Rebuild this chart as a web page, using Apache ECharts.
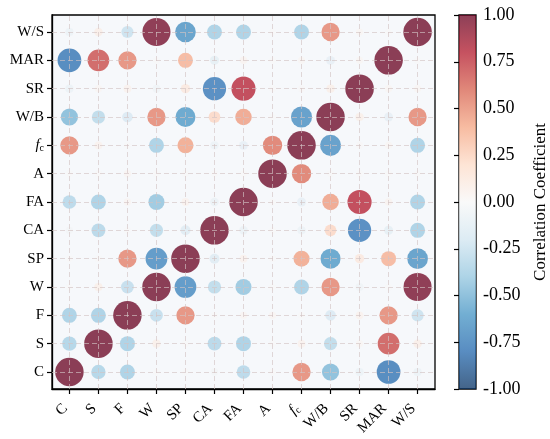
<!DOCTYPE html>
<html>
<head>
<meta charset="utf-8">
<script src="https://cdn.jsdelivr.net/npm/echarts@6/dist/echarts.min.js"></script>
<style>
  html, body { margin: 0; padding: 0; background: #fff; }
  #main { width: 550px; height: 439px; }
</style>
</head>
<body>
<div id="main"></div>
<script>
// variables, bottom to top on y, left to right on x
var labels = ['C', 'S', 'F', 'W', 'SP', 'CA', 'FA', 'A', 'fc', 'W/B', 'SR', 'MAR', 'W/S']

// correlation rows (same order as labels)
var rowC   = [1.00, -0.35, -0.38, 0.00, 0.00, -0.03, -0.32, 0.00, 0.53, -0.48, -0.07, -0.78, -0.07]
var rowS   = [-0.35, 1.00, -0.38, 0.07, 0.00, -0.33, -0.38, 0.00, 0.05, -0.30, 0.02, 0.69, 0.08]
var rowF   = [-0.38, -0.38, 1.00, -0.28, 0.53, 0.00, 0.03, 0.03, 0.00, -0.18, 0.05, 0.53, -0.25]
var rowW   = [0.00, 0.07, -0.28, 1.00, -0.69, -0.30, -0.43, 0.00, -0.38, 0.53, -0.05, 0.00, 0.98]
var rowSP  = [0.00, 0.00, 0.53, -0.69, 1.00, -0.15, 0.05, 0.00, 0.43, -0.61, 0.12, 0.38, -0.64]
var rowCA  = [-0.03, -0.33, 0.00, -0.30, -0.15, 1.00, -0.08, 0.00, -0.07, 0.23, -0.76, -0.11, -0.38]
var rowFA  = [-0.32, -0.38, 0.03, -0.43, 0.05, -0.08, 1.00, 0.00, -0.10, 0.45, 0.80, 0.04, -0.38]
var rowA   = [0.00, 0.00, 0.03, 0.00, 0.00, 0.00, 0.00, 1.00, 0.58, 0.00, 0.00, 0.00, 0.00]
var rowFc  = [0.53, 0.05, 0.00, -0.38, 0.43, -0.07, -0.10, 0.58, 1.00, -0.66, 0.01, 0.02, -0.38]
var rowWB  = [-0.48, -0.30, -0.18, 0.53, -0.61, 0.23, 0.45, 0.00, -0.66, 1.00, 0.07, -0.10, 0.53]
var rowSR  = [-0.07, 0.02, 0.05, -0.05, 0.12, -0.76, 0.80, 0.00, 0.01, 0.07, 1.00, 0.02, 0.02]
var rowMAR = [-0.78, 0.69, 0.53, 0.00, 0.38, -0.11, 0.04, 0.00, 0.02, -0.10, 0.02, 1.00, 0.00]
var rowWS  = [-0.07, 0.08, -0.25, 0.98, -0.64, -0.38, -0.38, 0.00, -0.38, 0.53, 0.02, 0.00, 1.00]

var colorTicks = [-1, -0.75, -0.5, -0.25, 0, 0.25, 0.5, 0.75, 1]

// RdBu_r
var cmap = ['#053061', '#2166ac', '#4393c3', '#92c5de', '#d1e5f0', '#f7f7f7',
            '#fddbc7', '#f4a582', '#d6604d', '#b2182b', '#67001f']

var rows = [rowC, rowS, rowF, rowW, rowSP, rowCA, rowFA, rowA, rowFc, rowWB, rowSR, rowMAR, rowWS]
var points = []
rows.forEach(function (row, y) {
  row.forEach(function (v, x) {
    points.push([x, y, v])
  })
})

var idx = labels.map(function (l, i) { return i })
var serif = '"Liberation Serif", "Times New Roman", serif'

function fmtLabel (v) {
  var l = labels[Math.round(v)]
  if (l === 'fc') return '{i|f}{s|c}'
  return l
}
var rich = {
  i: { fontStyle: 'italic', fontSize: 15, fontFamily: serif, color: '#000' },
  s: { fontSize: 10, fontFamily: serif, color: '#000', padding: [7, 0, 0, 0] }
}

var gridLines = []
idx.forEach(function (i) {
  gridLines.push({ xAxis: i })
  gridLines.push({ yAxis: i })
})

var myChart = echarts.init(document.getElementById('main'), null, { renderer: 'canvas' })
myChart.setOption({
  animation: false,
  grid: [
    { left: 52, top: 15, width: 383, height: 374, show: true, backgroundColor: '#f6f8fb',
      borderColor: '#000', borderWidth: 1.3 },
    { left: 459, top: 15, width: 19, height: 374, show: true, backgroundColor: 'transparent',
      borderColor: '#000', borderWidth: 1.3 }
  ],
  visualMap: {
    show: false,
    seriesIndex: 0,
    dimension: 2,
    min: -1,
    max: 1,
    inRange: { color: cmap }
  },
  xAxis: [
    {
      type: 'value', gridIndex: 0, min: -0.6, max: 12.6,
      axisLine: { show: true, onZero: false, lineStyle: { color: '#000', width: 1.3 } },
      axisTick: { show: true, customValues: idx, length: 5, lineStyle: { color: '#000', width: 1.2 } },
      axisLabel: { customValues: idx, rotate: 45, formatter: fmtLabel, rich: rich,
        fontFamily: serif, fontSize: 15, color: '#000', margin: 13, padding: [0, 6, 0, 0] },
      splitLine: { show: false }
    },
    { type: 'value', gridIndex: 1, min: 0, max: 1, show: false }
  ],
  yAxis: [
    {
      type: 'value', gridIndex: 0, min: -0.6, max: 12.6,
      axisLine: { show: true, onZero: false, lineStyle: { color: '#000', width: 1.3 } },
      axisTick: { show: true, customValues: idx, length: 5, lineStyle: { color: '#000', width: 1.2 } },
      axisLabel: { customValues: idx, formatter: fmtLabel, rich: rich,
        fontFamily: serif, fontSize: 15, color: '#000', margin: 8 },
      splitLine: { show: false }
    },
    {
      type: 'value', gridIndex: 1, min: -1, max: 1, interval: 0.25, position: 'right',
      axisLine: { show: false },
      axisTick: { show: true, inside: true, length: 5, lineStyle: { color: '#000', width: 1.2 } },
      axisLabel: { formatter: function (v) { return v.toFixed(2) },
        fontFamily: serif, fontSize: 18, color: '#000', margin: 7 },
      splitLine: { show: false },
      name: 'Correlation Coefficient',
      nameLocation: 'middle',
      nameRotate: 90,
      nameGap: 56,
      nameTextStyle: { fontFamily: serif, fontSize: 17, color: '#000' }
    }
  ],
  series: [
    {
      type: 'scatter',
      xAxisIndex: 0,
      yAxisIndex: 0,
      data: points,
      symbolSize: function (d) { return 6.7 + 21.8 * Math.abs(d[2]) },
      itemStyle: { opacity: 0.75 },
      markLine: {
        silent: true,
        symbol: 'none',
        label: { show: false },
        lineStyle: { color: 'rgba(210,195,195,0.65)', type: [5, 3], width: 1 },
        data: gridLines
      }
    },
    {
      type: 'custom',
      xAxisIndex: 1,
      yAxisIndex: 1,
      data: [[0, colorTicks[0], colorTicks[colorTicks.length - 1]]],
      renderItem: function (params, api) {
        var p0 = api.coord([0, api.value(2)])
        var p1 = api.coord([1, api.value(1)])
        var stops = cmap.map(function (c, i) {
          return { offset: 1 - i / (cmap.length - 1), color: c }
        }).reverse()
        return {
          type: 'rect',
          shape: { x: p0[0], y: p0[1], width: p1[0] - p0[0], height: p1[1] - p0[1] },
          style: { fill: new echarts.graphic.LinearGradient(0, 0, 0, 1, stops), opacity: 0.75 }
        }
      }
    }
  ]
})
</script>
</body>
</html>
